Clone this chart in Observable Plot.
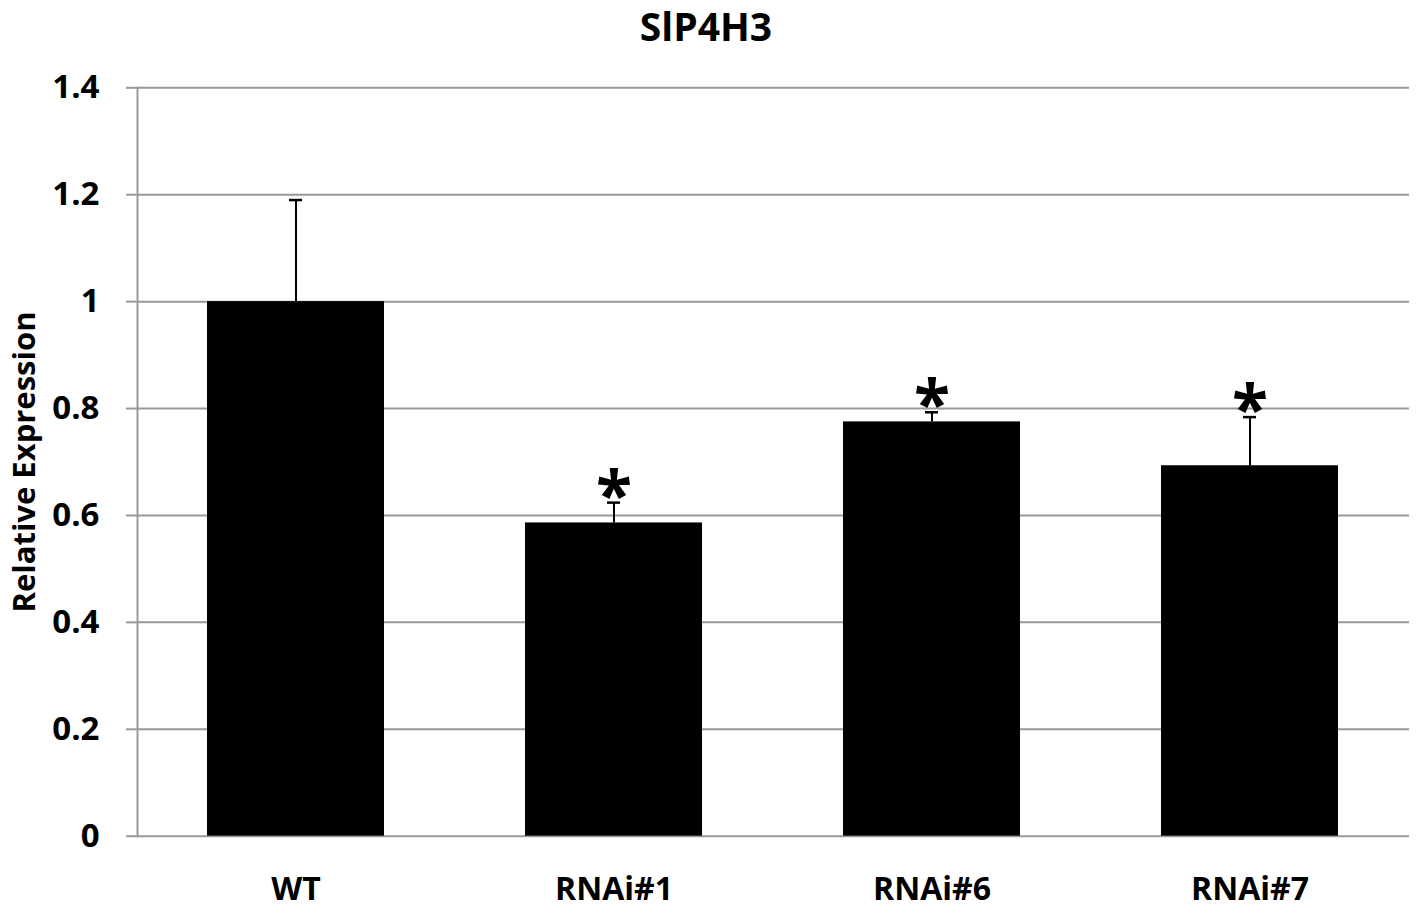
<!DOCTYPE html>
<html><head><meta charset="utf-8">
<script src="https://cdn.jsdelivr.net/npm/d3@7"></script>
<script src="https://cdn.jsdelivr.net/npm/@observablehq/plot@0.6"></script>
<style>
body{margin:0;background:#fff;font-family:"Open Sans",sans-serif;}
#title{height:60px;line-height:52px;text-align:center;font-weight:700;font-size:39px;color:#000;padding-right:6px;box-sizing:border-box;}
</style></head><body>
<div id="title">SlP4H3</div>
<div id="chart"></div>
<script>
const categories = ["WT", "RNAi#1", "RNAi#6", "RNAi#7"];
const means = [1.0, 0.586, 0.775, 0.693];
const errorTops = [1.19, 0.624, 0.793, 0.784];
const significant = [false, true, true, true];
const yTicks = [0, 0.2, 0.4, 0.6, 0.8, 1.0, 1.2, 1.4];
const yLabel = "Relative Expression";

const data = categories.map((c, i) => ({cat: c, mean: means[i], top: errorTops[i], sig: significant[i]}));

const chart = Plot.plot({
  width: 1418, height: 853,
  marginTop: 27.3, marginBottom: 77.3, marginLeft: 137, marginRight: 9,
  style: {fontFamily: '"Open Sans", sans-serif', fontWeight: 700, background: "#fff", color: "#000", overflow: "visible"},
  x: {domain: categories, paddingInner: 0.443, paddingOuter: 0.2215, align: 0.5},
  y: {domain: [0, 1.4]},
  marks: [
    Plot.ruleY(yTicks, {stroke: "#999", strokeWidth: 2}),
    Plot.frame({anchor: "left", stroke: "#999", strokeWidth: 2}),
    Plot.barY(data, {x: "cat", y: "mean", fill: "#000"}),
    Plot.ruleX(data, {x: "cat", y1: "mean", y2: "top", stroke: "#000", strokeWidth: 2}),
    Plot.tickY(data, {x: "cat", y: "top", stroke: "#000", strokeWidth: 2.5, insetLeft: 82, insetRight: 82}),
    Plot.text(data.filter(d => d.sig), {x: "cat", y: "top", text: () => "*", fontSize: 66, fontWeight: 700, lineAnchor: "bottom", dy: 16, fill: "#000"}),
    Plot.axisY({ticks: yTicks, tickFormat: d => String(+d.toFixed(1)), tickSize: 11, tickPadding: 27, fontSize: 33, stroke: "#999", strokeWidth: 2, fill: "#000", label: null}),
    Plot.axisY({ticks: [], tickSize: 0, label: yLabel, labelArrow: "none", labelAnchor: "center", labelOffset: 125, fontSize: 31, fill: "#000"}),
    Plot.axisX({tickSize: 0, tickPadding: 41, fontSize: 32, fill: "#000", label: null})
  ]
});
document.getElementById("chart").appendChild(chart);
</script>
</body></html>
